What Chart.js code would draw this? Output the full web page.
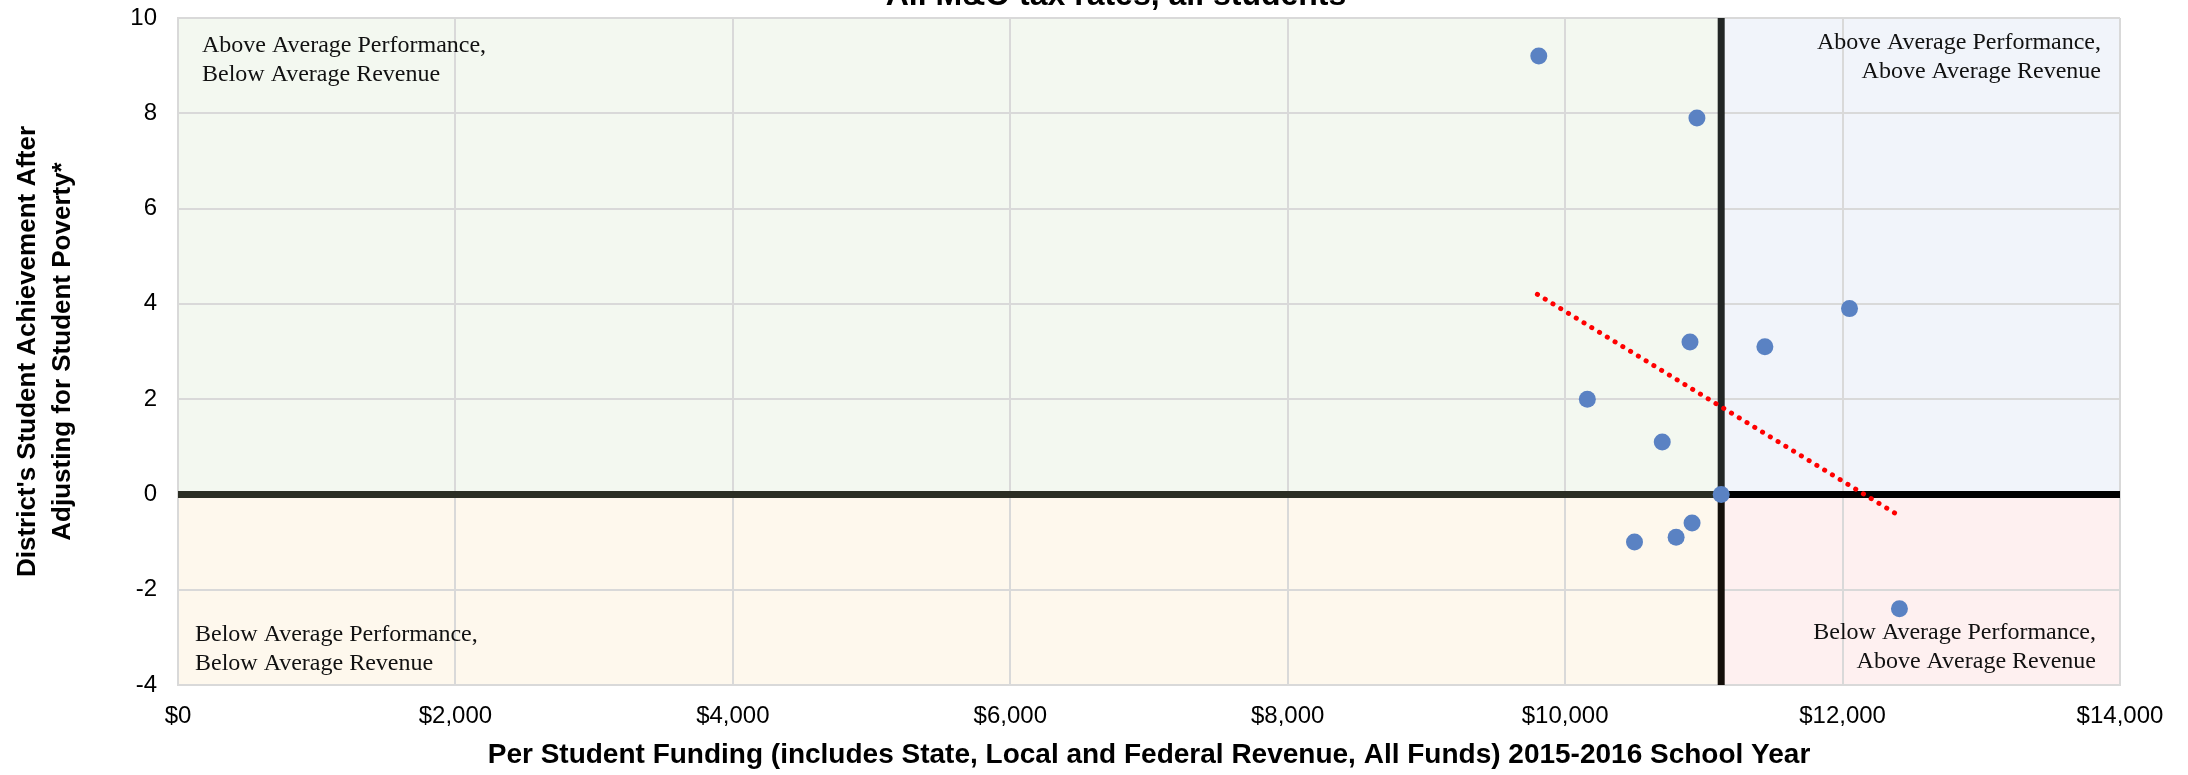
<!DOCTYPE html>
<html>
<head>
<meta charset="utf-8">
<title>All M&amp;O tax rates, all students</title>
<script src="https://cdn.jsdelivr.net/npm/chart.js@4.4.1/dist/chart.umd.min.js"></script>
<style>
  html, body { margin: 0; padding: 0; background: #fff; }
  #wrap { width: 2188px; height: 775px; position: relative; }
</style>
</head>
<body>
<div id="wrap"><canvas id="grafico"></canvas></div>
<script>
// districts: funding per student ($) and achievement after poverty adjustment
const funding = [9810, 10950, 10900, 11440, 12050, 10160, 10700, 11125, 10915, 10800, 10500, 12410];
const achievement = [9.2, 7.9, 3.2, 3.1, 3.9, 2.0, 1.1, 0, -0.6, -0.9, -1.0, -2.4];

// trend line ends
const trendX = [9800, 12410];
const trendY = [4.2, -0.45];

// averages splitting the quadrants
const avgFunding = 11125;
const avgAchievement = 0;

const xMin = 0, xMax = 14000, xStep = 2000;
const yMin = -4, yMax = 10, yStep = 2;

const titulo = 'All M&O tax rates, all students';
const tituloX = 'Per Student Funding (includes State, Local and Federal Revenue, All Funds) 2015-2016 School Year';
const tituloY = ["District's Student Achievement After", 'Adjusting for Student Poverty*'];
const quadrantes = [
    ['Above Average Performance,', 'Below Average Revenue'],
    ['Above Average Performance,', 'Above Average Revenue'],
    ['Below Average Performance,', 'Below Average Revenue'],
    ['Below Average Performance,', 'Above Average Revenue']
];

window.addEventListener('DOMContentLoaded', () => {

    const pontos = funding.map((x, i) => ({x: x, y: achievement[i]}));
    const tendencia = trendX.map((x, i) => ({x: x, y: trendY[i]}));

    // fundo colorido de cada quadrante + textos
    const fundoQuadrantes = {
        id: 'fundoQuadrantes',
        beforeDraw(chart) {
            const {ctx, chartArea: a, scales: {x, y}} = chart;
            const mx = x.getPixelForValue(avgFunding);
            const my = y.getPixelForValue(avgAchievement);
            ctx.save();
            ctx.fillStyle = '#f3f8f0';
            ctx.fillRect(a.left, a.top, mx - a.left, my - a.top);
            ctx.fillStyle = '#f1f4fa';
            ctx.fillRect(mx, a.top, a.right - mx, my - a.top);
            ctx.fillStyle = '#fef8ed';
            ctx.fillRect(a.left, my, mx - a.left, a.bottom - my);
            ctx.fillStyle = '#fef0f0';
            ctx.fillRect(mx, my, a.right - mx, a.bottom - my);
            ctx.restore();
        },
        afterDraw(chart) {
            const {ctx, chartArea: a} = chart;
            ctx.save();
            ctx.fillStyle = '#111';
            ctx.font = '24px "Liberation Serif", "Times New Roman", serif';
            ctx.textBaseline = 'middle';
            const lh = 29;
            ctx.textAlign = 'left';
            quadrantes[0].forEach((t, i) => ctx.fillText(t, a.left + 24, a.top + 28 + i * lh));
            quadrantes[2].forEach((t, i) => ctx.fillText(t, a.left + 17, a.bottom - 50 + i * lh));
            ctx.textAlign = 'right';
            quadrantes[1].forEach((t, i) => ctx.fillText(t, a.right - 19, a.top + 25 + i * lh));
            quadrantes[3].forEach((t, i) => ctx.fillText(t, a.right - 24, a.bottom - 52 + i * lh));
            // titulo cortado no topo
            ctx.textAlign = 'center';
            ctx.textBaseline = 'alphabetic';
            ctx.font = 'bold 32px "Liberation Sans", Arial, sans-serif';
            ctx.fillStyle = '#000';
            ctx.fillText(titulo, 1116, 5);
            ctx.restore();
        }
    };

    const familia = '"Liberation Sans", Arial, sans-serif';

    new Chart(document.getElementById('grafico'), {
        type: 'scatter',
        data: {
            datasets: [
                {
                    label: 'Districts',
                    data: pontos,
                    backgroundColor: '#5a82c3',
                    borderWidth: 0,
                    pointRadius: 8.5,
                    order: 0
                },
                {
                    label: 'Trend',
                    type: 'line',
                    data: tendencia,
                    borderColor: '#ff0000',
                    borderWidth: 5,
                    borderDash: [0.1, 9],
                    borderCapStyle: 'round',
                    pointRadius: 0,
                    order: 1
                },
                {
                    type: 'line',
                    data: [{x: xMin, y: avgAchievement}, {x: avgFunding, y: avgAchievement}],
                    borderColor: '#2b2e24', borderWidth: 7, pointRadius: 0, order: 3
                },
                {
                    type: 'line',
                    data: [{x: avgFunding, y: avgAchievement}, {x: xMax, y: avgAchievement}],
                    borderColor: '#000000', borderWidth: 7, pointRadius: 0, order: 3
                },
                {
                    type: 'line',
                    data: [{x: avgFunding, y: avgAchievement}, {x: avgFunding, y: yMax}],
                    borderColor: '#222625', borderWidth: 7, pointRadius: 0, order: 2
                },
                {
                    type: 'line',
                    data: [{x: avgFunding, y: yMin}, {x: avgFunding, y: avgAchievement}],
                    borderColor: '#140f0a', borderWidth: 7, pointRadius: 0, order: 2
                }
            ]
        },
        options: {
            responsive: true,
            maintainAspectRatio: false,
            animation: false,
            layout: {padding: {top: 18, right: 68, bottom: 0, left: 0}},
            plugins: {
                legend: {display: false},
                tooltip: {enabled: false}
            },
            scales: {
                x: {
                    type: 'linear',
                    min: xMin, max: xMax,
                    afterFit: (s) => { s.height = 90; },
                    ticks: {
                        stepSize: xStep,
                        padding: 17,
                        color: '#000',
                        font: {family: familia, size: 24},
                        callback: (v) => '$' + v.toLocaleString('en-US')
                    },
                    grid: {color: '#d9d9d9', lineWidth: 2, drawTicks: false},
                    border: {color: '#d9d9d9', width: 2},
                    title: {display: true, text: tituloX, color: '#000', font: {family: familia, size: 28, weight: 'bold'}, padding: {top: 0, bottom: 3}}
                },
                y: {
                    min: yMin, max: yMax,
                    afterFit: (s) => { s.width = 178; s.paddingTop = 0; s.paddingBottom = 0; },
                    ticks: {
                        stepSize: yStep,
                        padding: 21,
                        color: '#000',
                        font: {family: familia, size: 24}
                    },
                    grid: {color: '#d9d9d9', lineWidth: 2, drawTicks: false},
                    border: {color: '#d9d9d9', width: 2},
                    title: {display: true, text: tituloY, color: '#000', font: {family: familia, size: 26, weight: 'bold', lineHeight: 1.35}, padding: {top: 10, bottom: 0}}
                }
            }
        },
        plugins: [fundoQuadrantes]
    });
});
</script>
</body>
</html>
